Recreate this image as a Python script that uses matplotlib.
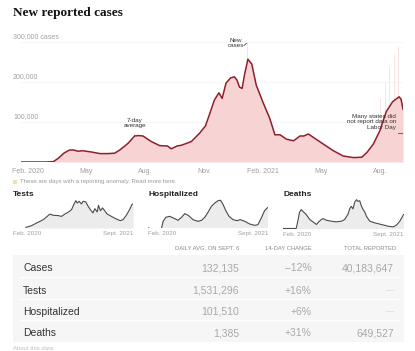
import matplotlib
matplotlib.use("Agg")
import matplotlib.pyplot as plt
import numpy as np
import pandas as pd
from matplotlib.patches import Rectangle

plt.rcParams['font.family'] = ['Liberation Sans', 'DejaVu Sans']

# ---------------- data ----------------
case_dates = ["2020-01-21", "2020-03-01", "2020-03-12", "2020-03-20", "2020-03-28", "2020-04-06",
              "2020-04-12", "2020-04-19", "2020-04-27", "2020-05-10", "2020-05-23", "2020-06-05",
              "2020-06-15", "2020-06-23", "2020-07-06", "2020-07-16", "2020-07-22", "2020-07-29",
              "2020-08-11", "2020-08-24", "2020-09-05", "2020-09-11", "2020-09-20", "2020-09-27",
              "2020-10-12", "2020-10-25", "2020-11-03", "2020-11-10", "2020-11-17", "2020-11-24",
              "2020-11-29", "2020-12-05", "2020-12-12", "2020-12-18", "2020-12-22", "2020-12-26",
              "2020-12-30", "2021-01-03", "2021-01-08", "2021-01-14", "2021-01-21", "2021-02-01",
              "2021-02-11", "2021-02-19", "2021-02-27", "2021-03-09", "2021-03-20", "2021-03-30",
              "2021-04-05", "2021-04-12", "2021-04-22", "2021-05-05", "2021-05-21", "2021-06-05",
              "2021-06-21", "2021-07-04", "2021-07-12", "2021-07-22", "2021-08-01", "2021-08-11",
              "2021-08-21", "2021-08-31", "2021-09-03", "2021-09-06"]
case_avg = [0, 0, 1000, 10000, 22000, 30000,
            30000, 27000, 28000, 25000, 21000, 21000,
            22000, 30000, 47000, 65000, 66000, 65000,
            51000, 41000, 40000, 33000, 40000, 42000,
            51000, 72000, 90000, 122000, 155000, 173000,
            159000, 197000, 210000, 213000, 205000, 187000,
            184000, 220000, 257000, 245000, 192000, 147000,
            109000, 68000, 68000, 57000, 53000, 65000,
            65000, 70000, 59000, 45000, 28000, 15000,
            11000, 12000, 24000, 45000, 78000, 126000,
            151000, 163000, 157000, 132000]

spike_dates = ["2021-01-07", "2021-08-02", "2021-08-09", "2021-08-16", "2021-08-23", "2021-08-30"]
spike_values = [300000, 160000, 200000, 240000, 270000, 290000]

tests_dates = ["2020-03-25", "2020-04-22", "2020-05-17", "2020-06-19", "2020-07-22", "2020-08-07",
               "2020-09-01", "2020-09-17", "2020-10-04", "2020-10-20", "2020-11-06", "2020-11-17",
               "2020-11-27", "2020-12-04", "2020-12-13", "2020-12-25", "2021-01-02", "2021-01-15",
               "2021-01-27", "2021-02-07", "2021-02-20", "2021-03-01", "2021-03-13", "2021-03-19",
               "2021-03-29", "2021-04-08", "2021-04-19", "2021-05-01", "2021-05-22", "2021-06-16",
               "2021-07-05", "2021-07-19", "2021-08-04", "2021-08-20", "2021-09-01", "2021-09-06"]
tests_vals = [0.04, 0.15, 0.32, 0.53, 0.89, 0.81,
              0.79, 0.74, 0.89, 1.00, 1.17, 1.49,
              1.74, 1.59, 1.70, 1.53, 1.70, 1.66,
              1.38, 1.17, 0.96, 1.23, 1.02, 1.44,
              1.10, 1.28, 1.10, 0.89, 0.74, 0.57,
              0.47, 0.53, 0.81, 1.17, 1.50, 1.53]

hosp_dates = ["2020-01-21", "2020-01-25", "2020-01-26", "2020-03-28", "2020-04-05", "2020-04-18",
              "2020-05-08", "2020-05-25", "2020-06-18", "2020-07-05", "2020-07-21", "2020-08-07",
              "2020-08-31", "2020-09-25", "2020-10-12", "2020-10-28", "2020-11-14", "2020-11-30",
              "2020-12-17", "2021-01-02", "2021-01-14", "2021-01-27", "2021-02-09", "2021-02-25",
              "2021-03-17", "2021-04-06", "2021-04-22", "2021-05-14", "2021-06-07", "2021-07-02",
              "2021-07-18", "2021-08-04", "2021-08-20", "2021-09-06"]
hosp_vals = [0, 0, np.nan, 0, 32.7, 52.4,
             57.3, 49.1, 37.7, 52.4, 70.4, 62.2,
             40.9, 32.7, 37.7, 52.4, 78.6, 106.4,
             122.8, 134.2, 135.9, 114.6, 85.1, 57.3,
             40.9, 36.0, 40.9, 32.7, 19.6, 13.1,
             16.4, 49.1, 85.1, 101.5]

death_dates = ["2020-01-21", "2020-03-26", "2020-04-03", "2020-04-12", "2020-04-20", "2020-04-28",
               "2020-05-15", "2020-06-01", "2020-06-17", "2020-07-04", "2020-07-15", "2020-07-28",
               "2020-08-05", "2020-08-22", "2020-09-15", "2020-10-10", "2020-11-04", "2020-11-20",
               "2020-12-07", "2020-12-15", "2020-12-23", "2020-12-31", "2021-01-09", "2021-01-17",
               "2021-01-25", "2021-02-02", "2021-02-11", "2021-02-19", "2021-02-27", "2021-03-07",
               "2021-03-24", "2021-04-17", "2021-05-20", "2021-06-22", "2021-07-17", "2021-08-02",
               "2021-08-19", "2021-09-06"]
death_vals = [0, 0, 0.73, 1.65, 1.88, 1.71,
              1.38, 0.89, 0.66, 0.40, 0.66, 0.89,
              0.99, 0.82, 0.73, 0.66, 0.73, 0.89,
              1.45, 1.98, 2.21, 1.95, 2.64, 2.87,
              2.70, 2.77, 2.21, 1.88, 1.65, 1.22,
              0.73, 0.56, 0.40, 0.23, 0.16, 0.33,
              0.73, 1.385]

xtick_dates = ["2020-02-01", "2020-05-01", "2020-08-01", "2020-11-01", "2021-02-01", "2021-05-01", "2021-08-01"]
xtick_labels = ["Feb. 2020", "May", "Aug.", "Nov.", "Feb. 2021", "May", "Aug."]
ytick_vals = [100000, 200000, 300000]
ytick_labels = ["100,000", "200,000", "300,000 cases"]

table_rows = ["Cases", "Tests", "Hospitalized", "Deaths"]
table_avg = ["132,135", "1,531,296", "101,510", "1,385"]
table_change = ["\u201312%", "+16%", "+6%", "+31%"]
table_total = ["40,183,647", "\u2014", "\u2014", "649,527"]
table_headers = ["DAILY AVG. ON SEPT. 6", "14-DAY CHANGE", "TOTAL REPORTED"]

# ---------------- layout ----------------
W, H = 415, 351
fig = plt.figure(figsize=(W / 100, H / 100), dpi=100)
fig.patch.set_facecolor("white")

def box(l, t, r, b):
    return [l / W, 1 - b / H, (r - l) / W, (b - t) / H]

x0 = pd.Timestamp("2020-01-21")
x1 = pd.Timestamp("2021-09-06")

RED = "#8e1f2c"
PINK = "#f8d3d3"
GRAY_TXT = "#a0a0a0"

# main chart
ax = fig.add_axes(box(20.7, 42, 403, 162))
cd = pd.to_datetime(case_dates)
ax.fill_between(cd, case_avg, color=PINK, lw=0, zorder=1)
sd = pd.to_datetime(spike_dates)
ax.vlines(sd, 0, spike_values, color="#f8dede", lw=0.6, zorder=0.5)
ax.plot(cd, case_avg, color=RED, lw=1.1, zorder=3, solid_joinstyle="round")
ax.set_xlim(x0, x1)
ax.set_ylim(0, 300000)
for v in ytick_vals:
    ax.axhline(v, color="#f3f3f3", lw=0.5, zorder=0)
for s in ax.spines.values():
    s.set_visible(False)
ax.set_yticks([])
ax.set_xticks(pd.to_datetime(xtick_dates))
ax.set_xticklabels(xtick_labels, fontsize=5, color=GRAY_TXT)
ax.tick_params(axis="x", length=0, pad=4)
ax.set_facecolor("none")
for v, lab in zip(ytick_vals, ytick_labels):
    ax.annotate(lab, xy=(13, v), xycoords=("figure pixels", "data"),
                xytext=(0, 1.5), textcoords="offset points",
                ha="left", va="bottom", fontsize=5, color=GRAY_TXT)

# annotations (main chart)
ann_kw = dict(fontsize=4.5, color="#333333", ha="center", va="center", linespacing=1.0)
ax.annotate("7-day\naverage", xy=(pd.Timestamp("2020-07-16"), 66000),
            xytext=(pd.Timestamp("2020-07-16"), 97000), textcoords="data",
            arrowprops=dict(arrowstyle="-", color="#333333", lw=0.5, shrinkA=3, shrinkB=0), **ann_kw)
ax.annotate("New\ncases", xy=(pd.Timestamp("2021-01-06"), 297000),
            xytext=(pd.Timestamp("2020-12-20"), 297000), textcoords="data",
            arrowprops=dict(arrowstyle="-", color="#333333", lw=0.5, shrinkA=0, shrinkB=0,
                            relpos=(1.0, 0.25)), annotation_clip=False, **ann_kw)
ax.text(pd.Timestamp("2021-08-26"), 100000, "Many states did\nnot report data on\nLabor Day",
        fontsize=4.5, color="#333333", ha="right", va="center", linespacing=1.05, zorder=5)
ax.plot([pd.Timestamp("2021-08-29"), pd.Timestamp("2021-09-06")], [72500, 72500],
        color="#333333", lw=0.5, zorder=5)

# small multiples
def small(boxpx, dates, vals, title, top):
    a = fig.add_axes(box(*boxpx))
    d = pd.to_datetime(dates)
    v = np.array(vals, dtype=float)
    a.fill_between(d, np.nan_to_num(v), where=~np.isnan(v), color="#ececec", lw=0)
    a.plot(d, v, color="#4a4a4a", lw=0.8)
    a.set_xlim(x0, x1)
    a.set_ylim(0, top)
    a.axis("off")
    a.text(0, -0.1, "Feb. 2020", transform=a.transAxes, ha="left", va="top",
           fontsize=4.5, color=GRAY_TXT)
    a.text(1, -0.1, "Sept. 2021", transform=a.transAxes, ha="right", va="top",
           fontsize=4.5, color=GRAY_TXT)
    fig.text(boxpx[0] / W, 1 - 195 / H, title, ha="left", va="center",
             fontsize=6, fontweight="bold", color="#222222")
    return a

small((13, 198, 133, 228), tests_dates, tests_vals, "Tests", 1.91)
small((148, 198, 268, 228), hosp_dates, hosp_vals, "Hospitalized", 147)
small((283, 198, 403.5, 228.5), death_dates, death_vals, "Deaths", 3.04)

# overlay for text / table
ov = fig.add_axes([0, 0, 1, 1], zorder=10)
ov.set_xlim(0, W)
ov.set_ylim(H, 0)
ov.axis("off")

ov.text(13, 13, "New reported cases", fontsize=9.5, fontweight="bold",
        family=["Liberation Serif", "DejaVu Serif"], color="#121212", ha="left", va="center")

ov.add_patch(Rectangle((13, 180), 4, 4, color="#f3e3a0", lw=0))
ov.text(20, 182, "These are days with a reporting anomaly. Read more here.",
        fontsize=4.3, color="#9a9a9a", ha="left", va="center")

# table
ov.add_patch(Rectangle((13, 255), 391, 87, color="#f6f6f6", lw=0))
for yl in [277, 298.5, 320]:
    ov.plot([20, 398], [yl, yl], color="white", lw=0.9)
hx = [239, 311.5, 396]
for x, h in zip(hx, table_headers):
    ov.text(x, 249, h, fontsize=4.2, color="#8a8a8a", ha="right", va="center")
row_y = [268.3, 290.5, 311.7, 333.3]
for y, r, a, c, t in zip(row_y, table_rows, table_avg, table_change, table_total):
    ov.text(23, y, r, fontsize=7.5, color="#333333", ha="left", va="center")
    ov.text(239, y, a, fontsize=7.5, color="#a8a8a8", ha="right", va="center")
    ov.text(311.5, y, c, fontsize=7.5, color="#a8a8a8", ha="right", va="center")
    ov.text(394, y, t, fontsize=7.5 if t != "\u2014" else 6, color="#a8a8a8" if t != "\u2014" else "#d0d0d0",
            ha="right", va="center")

ov.text(13, 349, "About this data", fontsize=4.3, color="#c0c0c0", ha="left", va="center")

fig.savefig("out.png", dpi=100, facecolor="white")
